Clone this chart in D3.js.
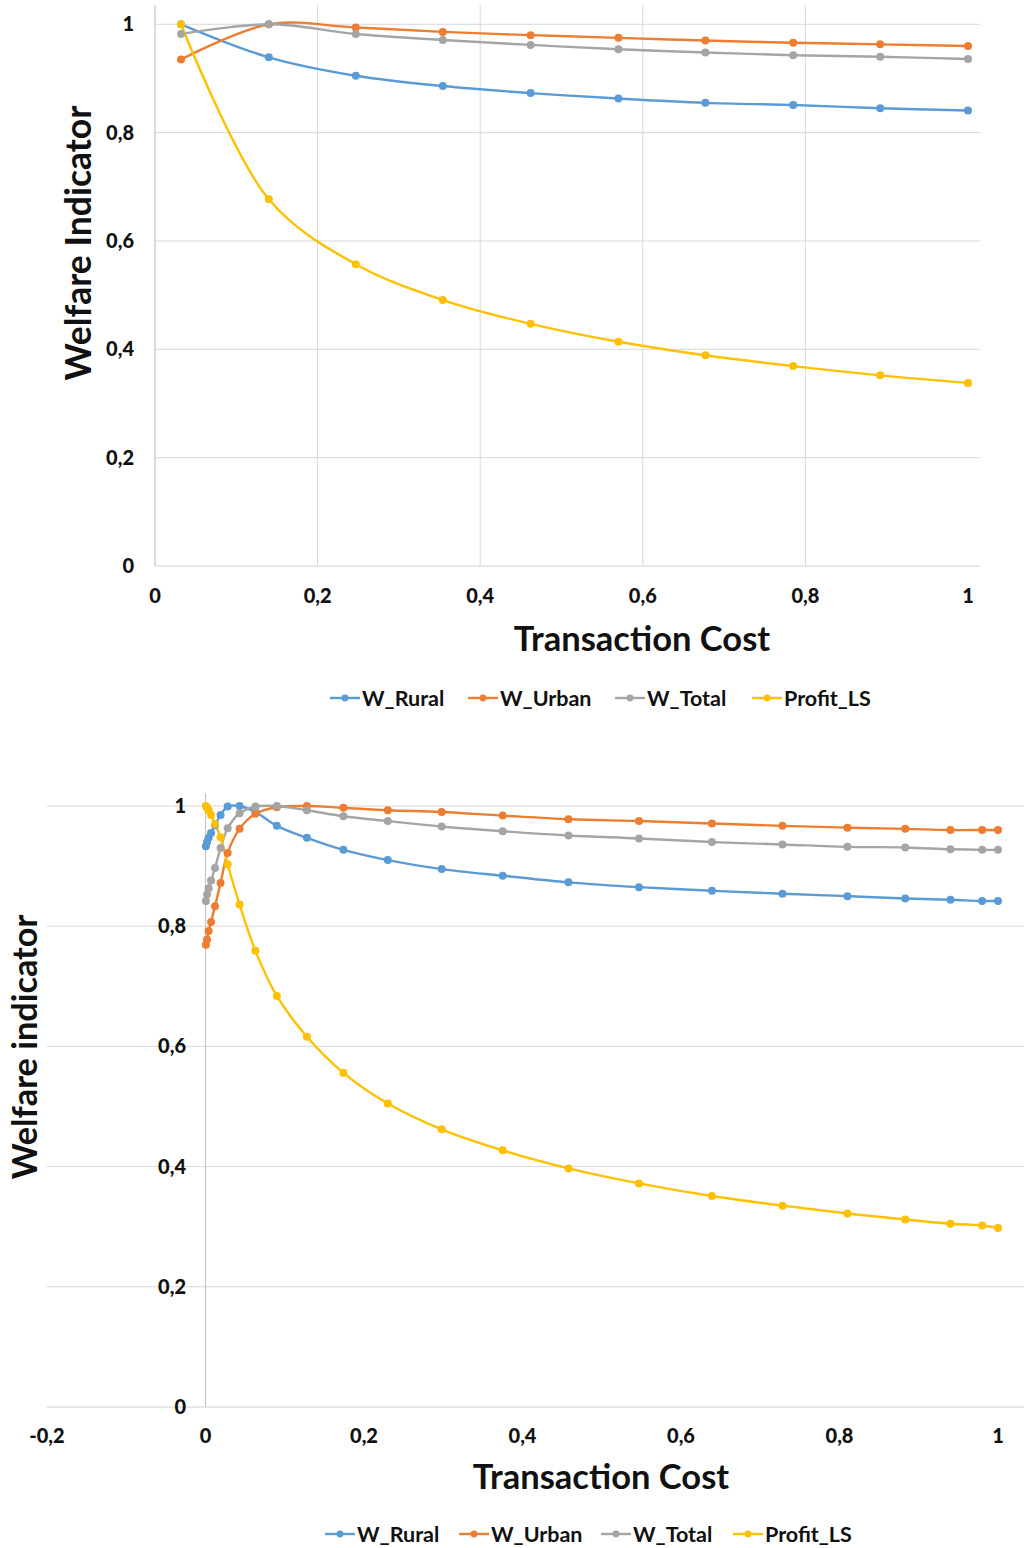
<!DOCTYPE html>
<html><head><meta charset="utf-8">
<script src="https://cdn.jsdelivr.net/npm/d3@7"></script>
<style>
html,body{margin:0;padding:0;background:#fff;}
svg{display:block;font-family:Lato,"Open Sans",sans-serif;}
</style></head>
<body>
<svg id="chart" width="1024" height="1548"></svg>
<script>
// ---------- DATA ----------
const seriesNames = ["W_Rural", "W_Urban", "W_Total", "Profit_LS"];
const seriesColors = ["#5B9BD5", "#ED7D31", "#A5A5A5", "#FFC000"];

// top chart
const topX      = [0.032, 0.140, 0.247, 0.354, 0.462, 0.570, 0.677, 0.785, 0.892, 1.000];
const topRural  = [1.000, 0.939, 0.905, 0.886, 0.873, 0.863, 0.855, 0.851, 0.845, 0.841];
const topUrban  = [0.935, 1.000, 0.994, 0.986, 0.980, 0.975, 0.970, 0.966, 0.963, 0.960];
const topTotal  = [0.982, 1.000, 0.982, 0.971, 0.962, 0.954, 0.948, 0.943, 0.940, 0.936];
const topProfit = [1.000, 0.677, 0.557, 0.491, 0.447, 0.414, 0.389, 0.369, 0.352, 0.338];
const topXTicks = [0, 0.2, 0.4, 0.6, 0.8, 1];
const topYTicks = [0, 0.2, 0.4, 0.6, 0.8, 1];
const topXTitle = "Transaction Cost";
const topYTitle = "Welfare Indicator";

// bottom chart
const botX      = [0.0005, 0.002, 0.004, 0.007, 0.012, 0.019, 0.028, 0.043, 0.063, 0.090, 0.128, 0.174,
                   0.230, 0.298, 0.375, 0.458, 0.547, 0.639, 0.728, 0.810, 0.883, 0.940, 0.980, 1.000];
const botRural  = [0.933, 0.940, 0.947, 0.955, 0.968, 0.985, 0.999, 1.000, 0.990, 0.967, 0.947, 0.927,
                   0.910, 0.895, 0.884, 0.873, 0.865, 0.859, 0.854, 0.850, 0.846, 0.844, 0.842, 0.842];
const botUrban  = [0.769, 0.778, 0.792, 0.807, 0.833, 0.872, 0.922, 0.962, 0.987, 0.998, 1.000, 0.997,
                   0.993, 0.990, 0.984, 0.978, 0.975, 0.971, 0.967, 0.964, 0.962, 0.960, 0.960, 0.960];
const botTotal  = [0.842, 0.853, 0.863, 0.876, 0.897, 0.930, 0.963, 0.988, 0.999, 1.000, 0.993, 0.983,
                   0.975, 0.966, 0.958, 0.951, 0.946, 0.940, 0.936, 0.932, 0.931, 0.928, 0.927, 0.927];
const botProfit = [1.000, 0.997, 0.993, 0.985, 0.970, 0.948, 0.903, 0.836, 0.759, 0.684, 0.616, 0.556,
                   0.505, 0.462, 0.427, 0.397, 0.372, 0.351, 0.335, 0.322, 0.312, 0.305, 0.302, 0.298];
const botXTicks = [-0.2, 0, 0.2, 0.4, 0.6, 0.8, 1];
const botYTicks = [0, 0.2, 0.4, 0.6, 0.8, 1];
const botXTitle = "Transaction Cost";
const botYTitle = "Welfare indicator";

// ---------- DRAW ----------
const locale = d3.formatLocale({decimal: ",", thousands: ".", grouping: [3], currency: ["", ""], minus: "-"});
const fmt = locale.format("~g");
const svg = d3.select("#chart");
const TEXT = "#111";

function drawChart(cfg) {
  const g = svg.append("g");
  const x = d3.scaleLinear().domain(cfg.xDomain).range(cfg.xRange);
  const y = d3.scaleLinear().domain([0, 1]).range(cfg.yRange);

  // horizontal gridlines
  g.append("g").selectAll("line").data(cfg.yTicks.filter(d => d > 0)).join("line")
    .attr("x1", cfg.plotLeft).attr("x2", cfg.plotRight)
    .attr("y1", d => y(d)).attr("y2", d => y(d))
    .attr("stroke", "#d9d9d9").attr("stroke-width", 1);
  // vertical gridlines
  g.append("g").selectAll("line").data(cfg.vGrid).join("line")
    .attr("x1", d => x(d)).attr("x2", d => x(d))
    .attr("y1", cfg.plotTop).attr("y2", y(0))
    .attr("stroke", "#d9d9d9").attr("stroke-width", 1);
  // axis lines
  g.append("line").attr("x1", cfg.plotLeft).attr("x2", cfg.plotRight)
    .attr("y1", y(0)).attr("y2", y(0)).attr("stroke", "#d0d0d0").attr("stroke-width", 1);
  g.append("line").attr("x1", x(0)).attr("x2", x(0))
    .attr("y1", cfg.plotTop).attr("y2", y(0)).attr("stroke", "#c8c8c8").attr("stroke-width", 1.3);

  // tick labels
  g.append("g").selectAll("text").data(cfg.yTicks).join("text")
    .attr("x", cfg.yLabelX).attr("y", d => y(d)).attr("dy", "0.35em")
    .attr("text-anchor", "end").attr("font-size", 20).attr("font-weight", 900)
    .attr("fill", TEXT).text(d => fmt(d));
  g.append("g").selectAll("text").data(cfg.xTicks).join("text")
    .attr("x", d => x(d)).attr("y", cfg.xLabelY).attr("dy", "0.35em")
    .attr("text-anchor", "middle").attr("font-size", 20).attr("font-weight", 900)
    .attr("fill", TEXT).text(d => fmt(d));

  // titles
  g.append("text").attr("x", cfg.xTitleX).attr("y", cfg.xTitleY).attr("dy", "0.35em")
    .attr("text-anchor", "middle").attr("font-size", 34.5).attr("font-weight", 700)
    .attr("fill", TEXT).text(cfg.xTitle);
  g.append("text").attr("transform", `translate(${cfg.yTitleX},${cfg.yTitleY}) rotate(-90)`)
    .attr("dy", "0.35em").attr("text-anchor", "middle").attr("font-size", cfg.yTitleSize).attr("font-weight", 700)
    .attr("fill", TEXT).text(cfg.yTitle);

  // series
  const line = d3.line().x(d => x(d[0])).y(d => y(d[1])).curve(d3.curveCatmullRom.alpha(0.5));
  cfg.series.forEach((vals, i) => {
    const pts = cfg.xs.map((xv, j) => [xv, vals[j]]);
    g.append("path").datum(pts).attr("d", line).attr("fill", "none")
      .attr("stroke", seriesColors[i]).attr("stroke-width", 2.4);
  });
  cfg.series.forEach((vals, i) => {
    const pts = cfg.xs.map((xv, j) => [xv, vals[j]]);
    g.append("g").selectAll("circle").data(pts).join("circle")
      .attr("cx", d => x(d[0])).attr("cy", d => y(d[1])).attr("r", 4)
      .attr("fill", seriesColors[i]);
  });

  // legend
  const lg = g.append("g");
  seriesNames.forEach((name, i) => {
    const lx = cfg.legendX[i];
    lg.append("line").attr("x1", lx).attr("x2", lx + 30).attr("y1", cfg.legendY).attr("y2", cfg.legendY)
      .attr("stroke", seriesColors[i]).attr("stroke-width", 2.4);
    lg.append("circle").attr("cx", lx + 15).attr("cy", cfg.legendY).attr("r", 3.4).attr("fill", seriesColors[i]);
    lg.append("text").attr("x", lx + 32).attr("y", cfg.legendY).attr("dy", "0.35em")
      .attr("font-size", 21.5).attr("font-weight", 700).attr("fill", TEXT).text(name);
  });
}

drawChart({
  xDomain: [0, 1], xRange: [155, 968], yRange: [566, 24.3],
  plotLeft: 155, plotRight: 980, plotTop: 5,
  vGrid: [0.2, 0.4, 0.6, 0.8],
  xTicks: topXTicks, yTicks: topYTicks,
  yLabelX: 134, xLabelY: 596,
  xTitle: topXTitle, xTitleX: 642, xTitleY: 639,
  yTitle: topYTitle, yTitleX: 79, yTitleY: 243, yTitleSize: 35.5,
  xs: topX, series: [topRural, topUrban, topTotal, topProfit],
  legendX: [330, 468, 615, 752], legendY: 698
});

drawChart({
  xDomain: [-0.2, 1], xRange: [47, 998], yRange: [1407, 806],
  plotLeft: 47, plotRight: 1024, plotTop: 793,
  vGrid: [],
  xTicks: botXTicks, yTicks: botYTicks,
  yLabelX: 186, xLabelY: 1436,
  xTitle: botXTitle, xTitleX: 601, xTitleY: 1477,
  yTitle: botYTitle, yTitleX: 25, yTitleY: 1047, yTitleSize: 34.3,
  xs: botX, series: [botRural, botUrban, botTotal, botProfit],
  legendX: [325, 459, 601, 733], legendY: 1534
});
</script>
</body></html>
